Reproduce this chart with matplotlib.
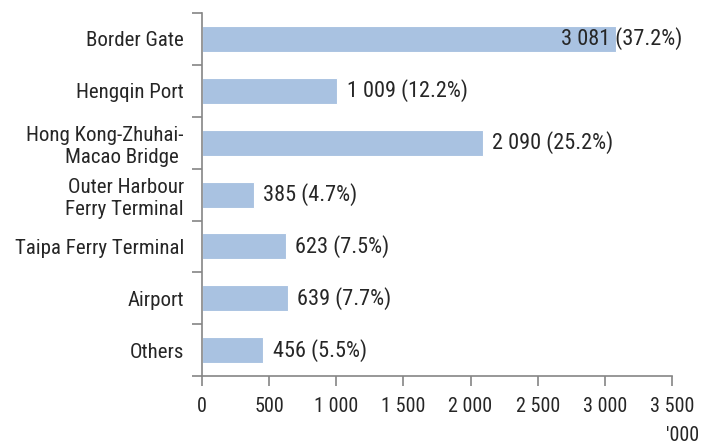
import matplotlib
matplotlib.use("Agg")
from matplotlib import pyplot as plt
import numpy as np

# data
ports = ["Border Gate", "Hengqin Port", "Hong Kong-Zhuhai-\nMacao Bridge ",
         "Outer Harbour\nFerry Terminal", "Taipa Ferry Terminal", "Airport", "Others"]
arrivals = [3081, 1009, 2090, 385, 623, 639, 456]
shares = [37.2, 12.2, 25.2, 4.7, 7.5, 7.7, 5.5]
xticks = [0, 500, 1000, 1500, 2000, 2500, 3000, 3500]

plt.rcParams["font.family"] = ["Roboto Condensed", "DejaVu Sans"]

txt = "#262626"
axc = "#858585"
barc = "#A9C2E1"

fig = plt.figure(figsize=(7.01, 4.43), dpi=100)
ax = fig.add_axes([0.288, 0.151, 0.6706, 0.8196])

y = np.arange(len(ports))
ax.barh(y, arrivals, height=0.5, color=barc, edgecolor="white", linewidth=0.8)
ax.set_ylim(len(ports) - 0.5, -0.5)
ax.set_xlim(0, 3500)

def fmt(v):
    return "{:,}".format(v).replace(",", " ")

# data labels
for i, (v, s) in enumerate(zip(arrivals, shares)):
    lab = "{} ({}%)".format(fmt(v), s)
    if v > 3000:
        ax.text(3580, i, lab, ha="right", va="center", fontsize=16, color=txt, clip_on=False)
    else:
        ax.text(v + 70, i, lab, ha="left", va="center", fontsize=16, color=txt)

ax.set_xticks(xticks)
ax.set_xticklabels([fmt(t) for t in xticks], fontsize=14.5, color=txt)
ax.set_yticks(y)
ax.set_yticklabels(ports, fontsize=15, color=txt, linespacing=1.25)
ax.tick_params(axis="y", length=0, pad=13)
ax.set_yticks(np.arange(len(ports) + 1) - 0.5, minor=True)
ax.tick_params(axis="y", which="minor", length=7, color=axc, width=1.2)
ax.tick_params(axis="x", length=7, color=axc, width=1.2, pad=8)

for sp in ["top", "right"]:
    ax.spines[sp].set_visible(False)
for sp in ["left", "bottom"]:
    ax.spines[sp].set_color(axc)
    ax.spines[sp].set_linewidth(1.2)

fig.text(0.997, 0.038, "'000", ha="right", va="top", fontsize=14.5, color=txt)

fig.savefig("out.png", dpi=100)
